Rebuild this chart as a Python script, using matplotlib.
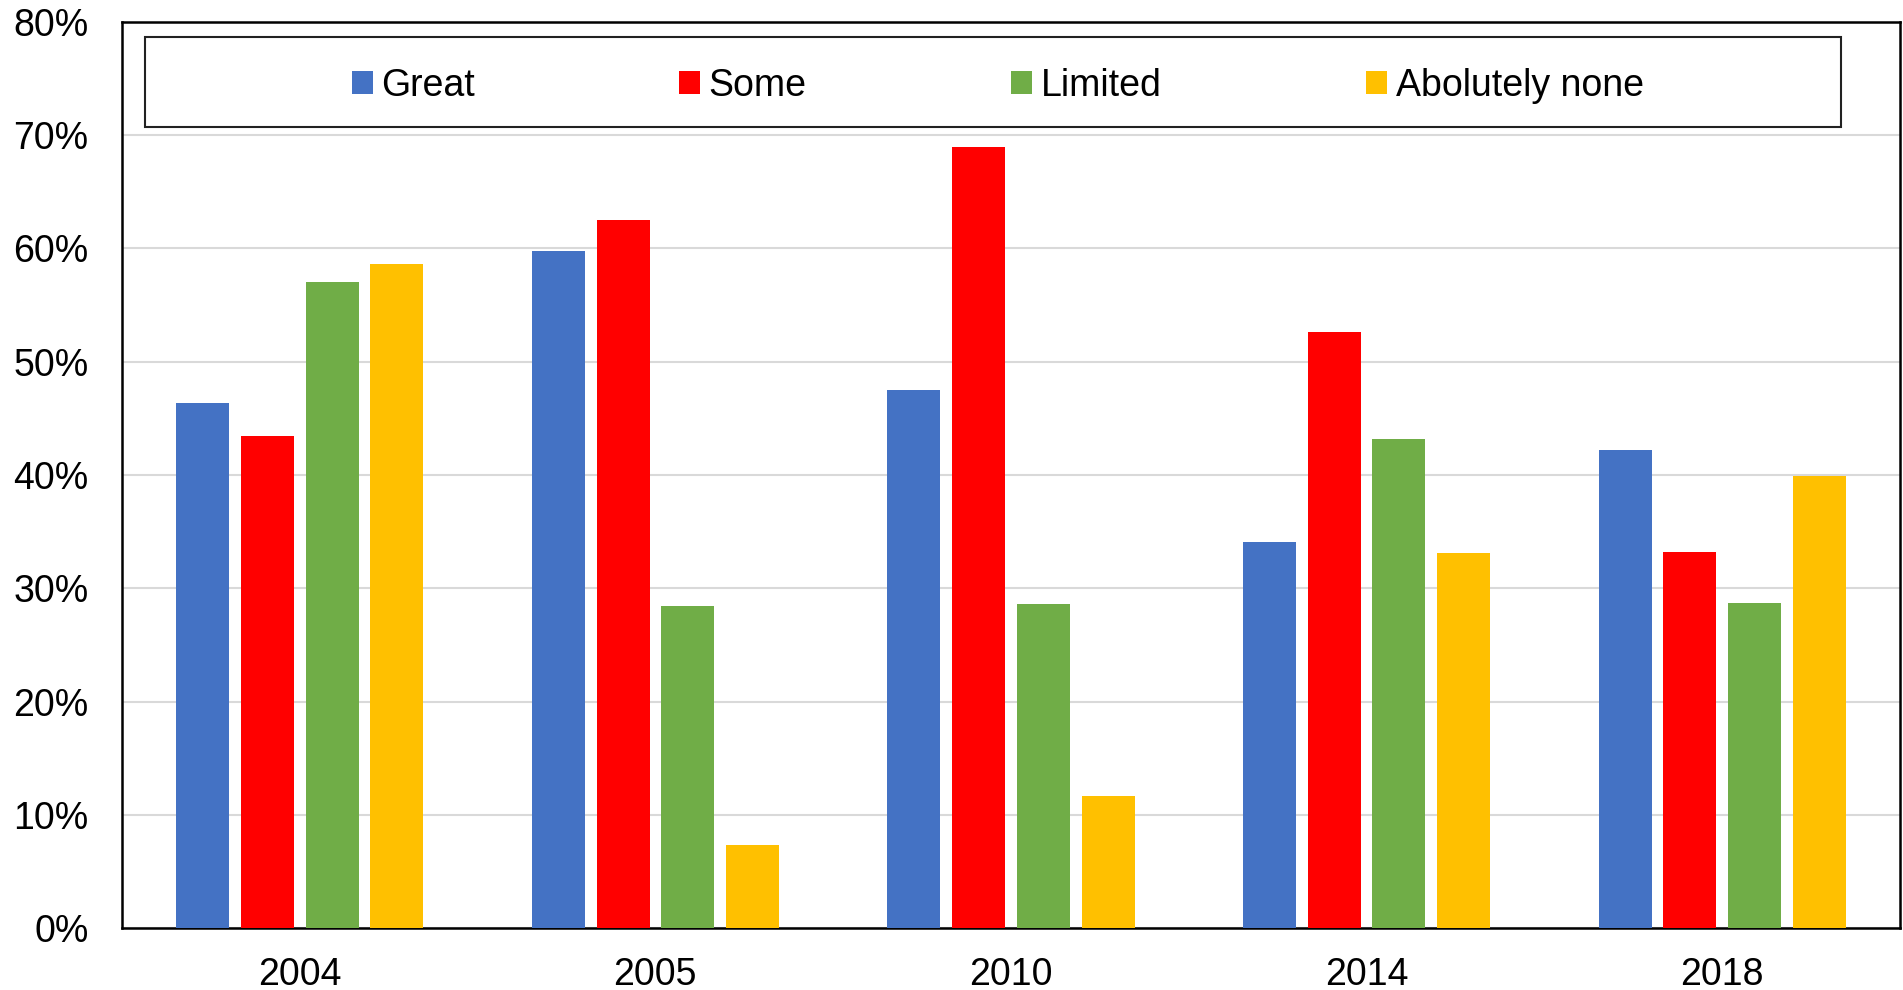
import numpy as np
import matplotlib.pyplot as plt
from matplotlib.patches import Rectangle

years = ['2004', '2005', '2010', '2014', '2018']
series = ['Great', 'Some', 'Limited', 'Abolutely none']
great = [46.4, 59.8, 47.5, 34.05, 42.2]
some = [43.4, 62.5, 69.0, 52.6, 33.2]
limited = [57.0, 28.4, 28.6, 43.2, 28.7]
none_at_all = [58.6, 7.3, 11.7, 33.1, 39.9]
colors = ['#4472C4', '#FF0000', '#70AD47', '#FFC000']

plt.rcParams['font.family'] = ['Liberation Sans', 'DejaVu Sans']

fig = plt.figure(figsize=(19.03, 9.9), dpi=100)
ax = fig.add_axes([0.0641, 0.0626, 0.9343, 0.9152])

x = np.arange(len(years))
width = 0.149
step = 0.182
for i, (vals, name) in enumerate(zip([great, some, limited, none_at_all], series)):
    ax.bar(x + (i - 1.5) * step, vals, width, color=colors[i], label=name, zorder=3)

ax.set_xlim(-0.5, 4.5)
ax.set_ylim(0, 80)
ax.set_yticks(range(0, 81, 10))
ax.set_yticklabels([f'{v}%' for v in range(0, 81, 10)])
ax.set_xticks(x)
ax.set_xticklabels(years)
ax.tick_params(axis='both', length=0, labelsize=27)
ax.tick_params(axis='y', pad=24)
ax.tick_params(axis='x', pad=21)
ax.yaxis.grid(True, color='#d9d9d9', linewidth=1.5, zorder=0)
ax.set_axisbelow(True)
for sp in ax.spines.values():
    sp.set_color('black')
    sp.set_linewidth(1.8)

# legend box drawn separately, entries inside
ax.add_patch(Rectangle((0.0129, 0.8841), 0.954, 0.0993, transform=ax.transAxes,
                       fill=False, edgecolor='#222222', linewidth=1.5, zorder=5))
leg = ax.legend(loc='center', bbox_to_anchor=(0.4925, 0.9298), ncol=4, frameon=False,
                fontsize=27, handlelength=0.56, handleheight=0.56,
                handletextpad=0.22, columnspacing=5.46, borderpad=0)

fig.savefig('out.png', dpi=100)
